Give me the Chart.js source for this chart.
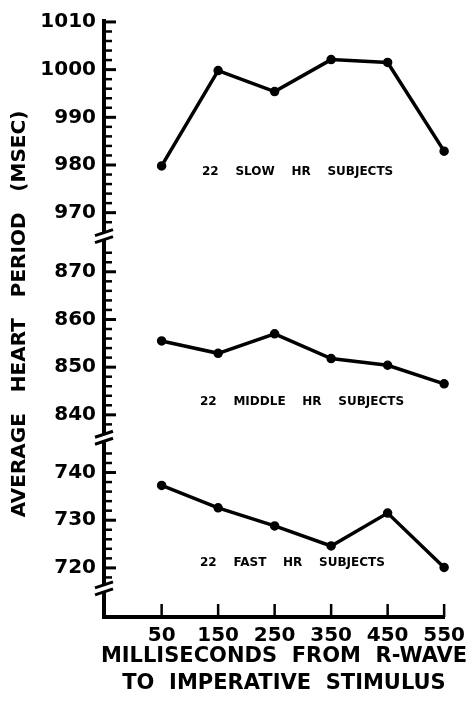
<!DOCTYPE html>
<html lang="en">
<head>
<meta charset="UTF-8" />
<title>Average heart period</title>
<style>
  html, body { margin: 0; padding: 0; background: #fff; }
  canvas { display: block; }
</style>
</head>
<body>
<canvas id="chart" width="472" height="702"></canvas>
<script src="https://cdn.jsdelivr.net/npm/chart.js"></script>
<script>
// ms from R-wave to imperative stimulus
const xValues = [50, 150, 250, 350, 450, 550];

// average heart period (msec) per group
const slowHr = [979.8, 999.8, 995.4, 1002.1, 1001.5, 982.9];
const middleHr = [855.5, 852.9, 857.0, 851.8, 850.4, 846.5];
const fastHr = [737.3, 732.6, 728.8, 724.6, 731.5, 720.1];

// labelled ticks on each piece of the broken axis
const slowTicks = [970, 980, 990, 1000, 1010];
const middleTicks = [840, 850, 860, 870];
const fastTicks = [720, 730, 740];

// value ranges of the three axis pieces
const slowRange = [965.2, 1010.2];
const middleRange = [835.3, 877.6];
const fastRange = [709.7, 747.4];

// span of the small tick marks (every 2 msec)
const slowMinor = [968, 1010];
const middleMinor = [838, 874];
const fastMinor = [718, 744];

const groupNames = ['22    SLOW    HR    SUBJECTS', '22    MIDDLE    HR    SUBJECTS', '22    FAST    HR    SUBJECTS'];
const yTitle = 'AVERAGE   HEART   PERIOD   (MSEC)';
const xTitle = ['MILLISECONDS  FROM  R-WAVE', 'TO  IMPERATIVE  STIMULUS'];

const FONT = "'DejaVu Sans', sans-serif";

function pts(arr) {
  return xValues.map((x, i) => ({ x: x, y: arr[i] }));
}

function yAxis(range, ticks) {
  return {
    type: 'linear',
    position: 'left',
    stack: 'hr',
    stackWeight: range[1] - range[0],
    min: range[0],
    max: range[1],
    grid: { display: false, drawTicks: false },
    border: { display: true, color: '#000', width: 4 },
    afterBuildTicks: s => { s.ticks = ticks.map(v => ({ value: v })); },
    afterFit: s => { s.width = 70; },
    ticks: {
      autoSkip: false,
      padding: 8,
      color: '#000',
      callback: v => String(v),
      font: { family: FONT, size: 20, weight: 'bold' }
    }
  };
}

const lineStyle = {
  borderColor: '#000',
  backgroundColor: '#000',
  borderWidth: 3.5,
  pointRadius: 3,
  pointHoverRadius: 3,
  tension: 0,
  clip: false
};

const decor = {
  id: 'decor',
  afterDraw(chart) {
    const ctx = chart.ctx;
    const left = chart.chartArea.left;
    const sc = chart.scales;
    ctx.save();
    ctx.strokeStyle = '#000';
    ctx.fillStyle = '#000';

    // tick marks pointing into the plot
    [[sc.ySlow, slowMinor], [sc.yMid, middleMinor], [sc.yFast, fastMinor]].forEach(([s, mr]) => {
      for (let v = mr[0]; v <= mr[1]; v += 2) {
        const y = s.getPixelForValue(v);
        const major = v % 10 === 0;
        ctx.lineWidth = major ? 3 : 2.5;
        ctx.beginPath();
        ctx.moveTo(left, y);
        ctx.lineTo(major ? left + 12 : left + 8, y);
        ctx.stroke();
      }
    });

    const bottom = chart.chartArea.bottom;
    ctx.lineWidth = 2.5;
    xValues.forEach(v => {
      const x = sc.x.getPixelForValue(v);
      ctx.beginPath();
      ctx.moveTo(x, bottom);
      ctx.lineTo(x, bottom - 13);
      ctx.stroke();
    });

    // axis breaks
    const breaks = [sc.ySlow.bottom, sc.yMid.bottom, sc.yFast.getPixelForValue(715.8)];
    breaks.forEach(b => {
      ctx.fillStyle = '#fff';
      ctx.fillRect(left - 4, b - 3, 8, 7);
      ctx.lineWidth = 3;
      ctx.beginPath();
      ctx.moveTo(left - 9, b);
      ctx.lineTo(left + 9, b - 6);
      ctx.moveTo(left - 9, b + 7);
      ctx.lineTo(left + 9, b + 1);
      ctx.stroke();
    });

    // axis titles
    ctx.fillStyle = '#000';
    ctx.font = 'bold 21px ' + FONT;
    ctx.textAlign = 'center';
    ctx.textBaseline = 'middle';
    ctx.fillText(xTitle[0], 284, 657);
    ctx.fillText(xTitle[1], 284, 684);
    ctx.font = 'bold 20px ' + FONT;
    ctx.save();
    ctx.translate(20, 314);
    ctx.rotate(-Math.PI / 2);
    ctx.fillText(yTitle, 0, 0);
    ctx.restore();

    // group labels
    ctx.font = 'bold 12px ' + FONT;
    ctx.textAlign = 'left';
    ctx.fillText(groupNames[0], 202, 172);
    ctx.fillText(groupNames[1], 200, 402);
    ctx.fillText(groupNames[2], 200, 563);
    ctx.restore();
  }
};

new Chart(document.getElementById('chart'), {
  type: 'line',
  data: {
    datasets: [
      Object.assign({ label: 'slow', data: pts(slowHr), yAxisID: 'ySlow' }, lineStyle),
      Object.assign({ label: 'middle', data: pts(middleHr), yAxisID: 'yMid' }, lineStyle),
      Object.assign({ label: 'fast', data: pts(fastHr), yAxisID: 'yFast' }, lineStyle)
    ]
  },
  options: {
    responsive: false,
    animation: false,
    layout: { padding: { left: 34, top: 21, right: 26, bottom: 0 } },
    plugins: { legend: { display: false }, tooltip: { enabled: false } },
    scales: {
      x: {
        type: 'linear',
        min: -52,
        max: 550,
        grid: { display: false, drawTicks: false },
        border: { display: true, color: '#000', width: 4 },
        afterBuildTicks: s => { s.ticks = xValues.map(v => ({ value: v })); },
        afterFit: s => { s.height = 85; },
        ticks: {
          autoSkip: false,
          maxRotation: 0,
          padding: 7,
          color: '#000',
          callback: v => String(v),
          font: { family: FONT, size: 20, weight: 'bold' }
        }
      },
      yFast: yAxis(fastRange, fastTicks),
      yMid: yAxis(middleRange, middleTicks),
      ySlow: yAxis(slowRange, slowTicks)
    }
  },
  plugins: [decor]
});
</script>
</body>
</html>
